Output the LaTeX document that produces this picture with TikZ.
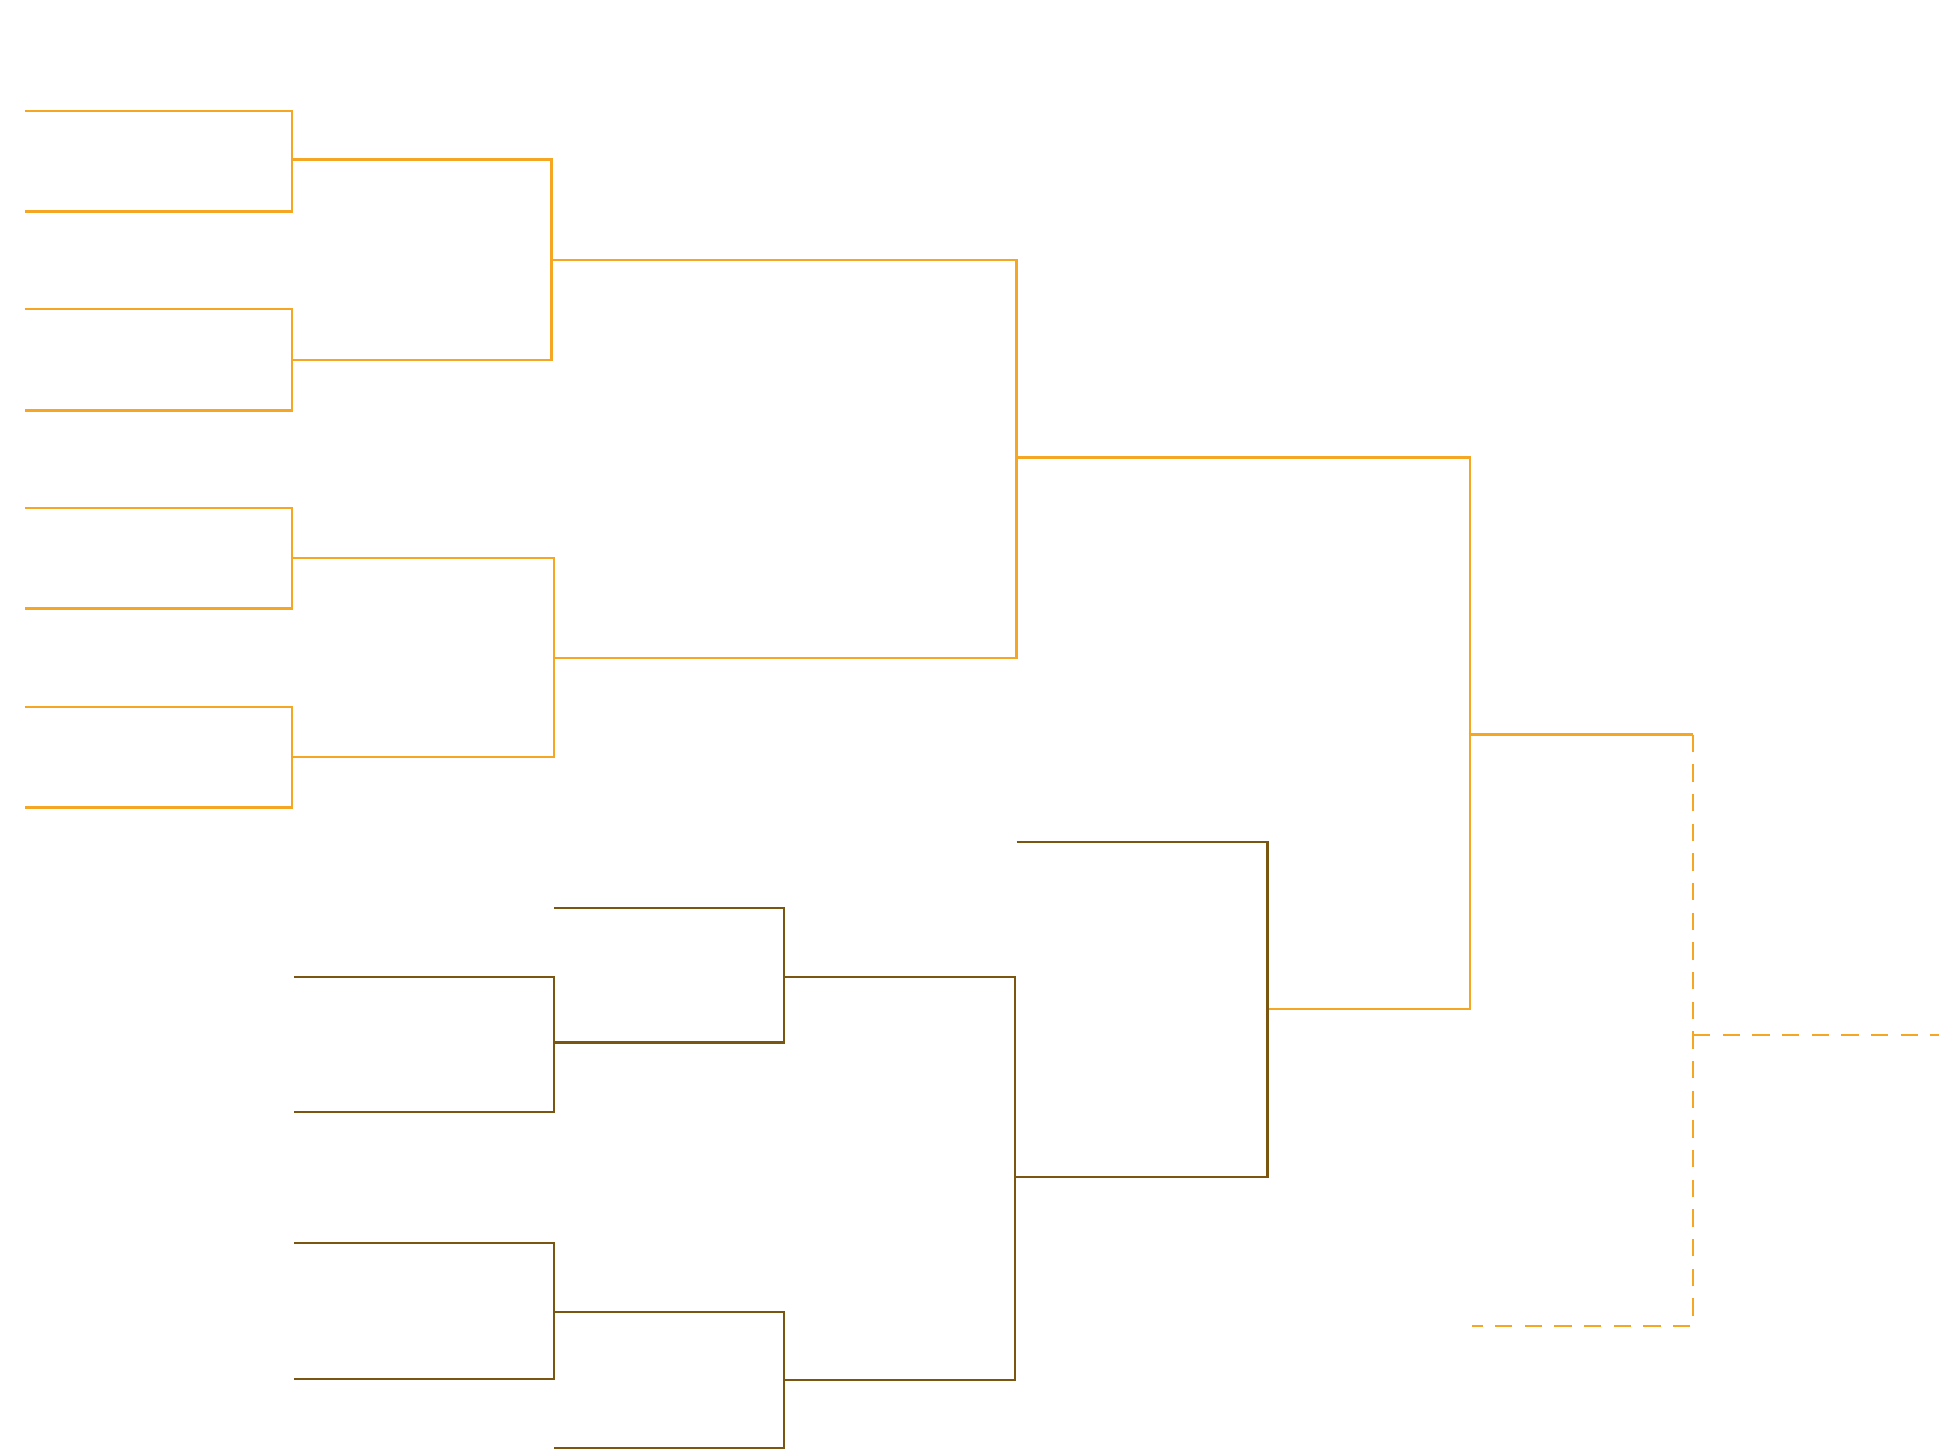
\documentclass[tikz,border=0pt]{standalone}
\definecolor{org}{HTML}{F5A623}
\definecolor{brn}{HTML}{7A5610}
\begin{document}
\begin{tikzpicture}[x=0.5pt,y=-0.5pt,line width=0.9pt,
  o/.style={draw=org}, b/.style={draw=brn}, dsh/.style={draw=org,dash pattern=on 7pt off 5pt}]
\useasboundingbox (0,0) rectangle (1568,1172);
% orange first round
\foreach \a/\c in {90/171,250/332,411/492,572/653}{
  \draw[o] (20,\a) -- (236,\a) -- (236,\c) -- (20,\c);
}
\draw[o] (236,129) -- (446,129) -- (446,291) -- (236,291);
\draw[o] (236,451) -- (448,451) -- (448,612) -- (236,612);
\draw[o] (446,210) -- (822,210) -- (822,532) -- (448,532);
\draw[o] (822,370) -- (1189,370) -- (1189,816) -- (1025,816);
\draw[o] (1189,594) -- (1369,594);
\draw[dsh] (1369,594) -- (1369,1072) -- (1190,1072);
\draw[dsh] (1369,837) -- (1568,837);
% brown
\draw[b] (238,790) -- (448,790) -- (448,899) -- (238,899);
\draw[b] (448,734) -- (634,734) -- (634,843) -- (448,843);
\draw[b] (238,1005) -- (448,1005) -- (448,1115) -- (238,1115);
\draw[b] (448,1171) -- (634,1171) -- (634,1061) -- (448,1061);
\draw[b] (634,790) -- (821,790) -- (821,1116) -- (634,1116);
\draw[b] (822,681) -- (1025,681) -- (1025,952) -- (821,952);
\end{tikzpicture}
\end{document}
